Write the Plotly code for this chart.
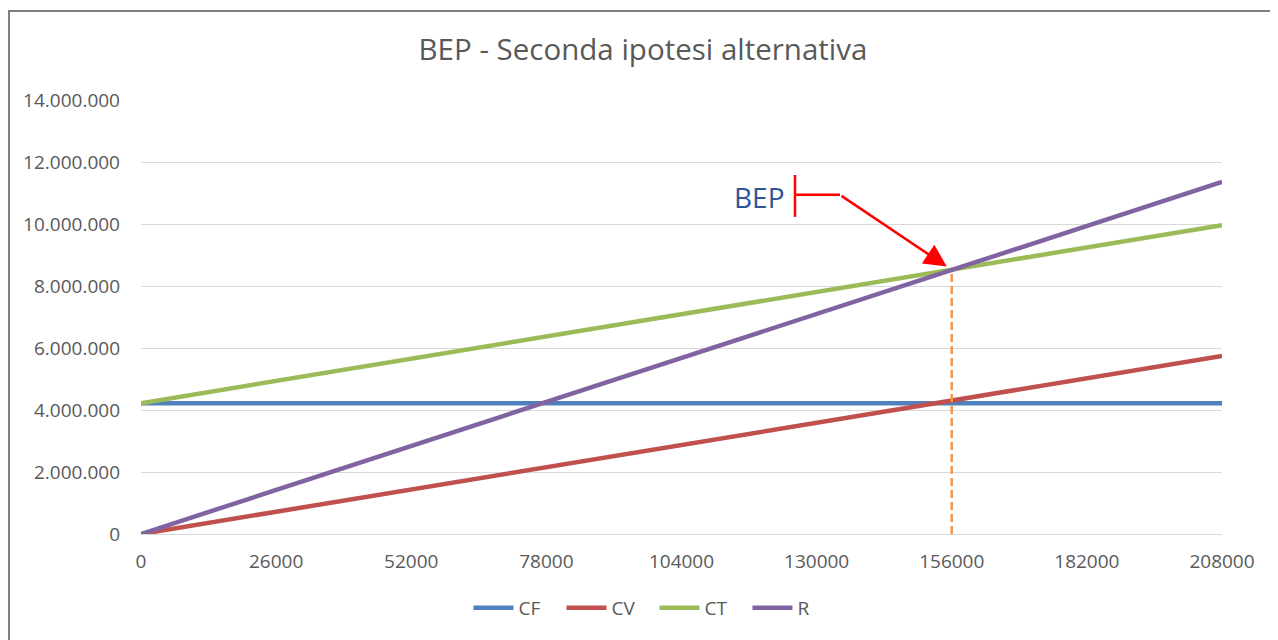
import plotly.graph_objects as go

# Data
quantities = [0, 26000, 52000, 78000, 104000, 130000, 156000, 182000, 208000]
CF = [4220000, 4220000, 4220000, 4220000, 4220000, 4220000, 4220000, 4220000, 4220000]
CV = [0, 717600, 1435200, 2152800, 2870400, 3588000, 4305600, 5023200, 5740800]
CT = [4220000, 4937600, 5655200, 6372800, 7090400, 7808000, 8525600, 9243200, 9960800]
R = [0, 1419600, 2839200, 4258800, 5678400, 7098000, 8517600, 9937200, 11356800]
bep_x = [156000, 156000]
bep_y = [0, 8517600]
y_ticks = [0, 2000000, 4000000, 6000000, 8000000, 10000000, 12000000, 14000000]
y_labels = ["0", "2.000.000", "4.000.000", "6.000.000", "8.000.000", "10.000.000", "12.000.000", "14.000.000"]
x_labels = [str(v) for v in quantities]

FONT = "Open Sans"
colors = {"CF": "#4F81BD", "CV": "#C0504D", "CT": "#9BBB59", "R": "#8064A2"}

fig = go.Figure()
for name, vals in [("CF", CF), ("CV", CV), ("CT", CT), ("R", R)]:
    fig.add_trace(go.Scatter(x=quantities, y=vals, mode="lines", name=name,
                             line=dict(color=colors[name], width=4.5)))
fig.add_trace(go.Scatter(x=bep_x, y=bep_y, mode="lines", showlegend=False,
                         line=dict(color="#F79646", width=2.5, dash="8px,4px")))

fig.update_layout(
    width=1270, height=632,
    paper_bgcolor="white", plot_bgcolor="white",
    margin=dict(l=133, r=56, t=92, b=106, autoexpand=False),
    title=dict(text="BEP - Seconda ipotesi alternativa", x=0.5, xref="container",
               xanchor="center", y=0.9335, yref="container", yanchor="middle",
               font=dict(family=FONT, size=29.5, color="#595959")),
    font=dict(family=FONT, color="#595959"),
    showlegend=True,
    legend=dict(orientation="h", x=0.475, xanchor="center", y=-0.17, yanchor="middle",
                font=dict(family=FONT, size=19, color="#595959"), itemwidth=40,
                entrywidth=38, entrywidthmode="pixels"),
    xaxis=dict(range=[0, 208000], tickvals=quantities, ticktext=x_labels,
               showgrid=False, zeroline=False, showline=False, tickangle=0,
               ticks="", ticklabelstandoff=14, tickfont=dict(size=19, color="#595959")),
    yaxis=dict(range=[0, 14000000], tickvals=y_ticks, ticktext=y_labels,
               showgrid=True, gridcolor="#D9D9D9", gridwidth=1,
               zeroline=True, zerolinecolor="#D9D9D9", zerolinewidth=1,
               showline=False, ticks="", ticklabelstandoff=20,
               tickfont=dict(size=19, color="#595959")),
)

# BEP callout
fig.add_shape(type="line", xref="x", yref="y", x0=125838, x1=125838, y0=10230000, y1=11580000,
              line=dict(color="#FF0000", width=2.5))
fig.add_shape(type="line", xref="x", yref="y", x0=125838, x1=134497, y0=10940000, y1=10940000,
              line=dict(color="#FF0000", width=2.5))
fig.add_annotation(x=bep_x[1], y=bep_y[1], xref="x", yref="y", ax=134497, ay=10940000,
                   axref="x", ayref="y", showarrow=True, arrowhead=2, arrowsize=1.8,
                   arrowwidth=2.5, arrowcolor="#FF0000", standoff=6, text="")
fig.add_annotation(x=119100, y=10870000, xref="x", yref="y", text="BEP", showarrow=False,
                   font=dict(family=FONT, size=28, color="#2F5597"))

# Chart border
fig.add_shape(type="rect", xref="paper", yref="paper", x0=-0.1221, x1=1.3, y0=-0.6, y1=1.205,
              line=dict(color="#7F7F7F", width=2), layer="above")

fig.write_html("out.html")
